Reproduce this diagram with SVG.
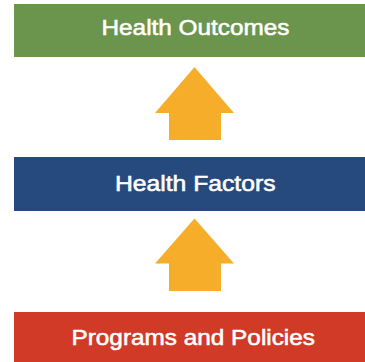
<svg xmlns="http://www.w3.org/2000/svg" width="365" height="362" viewBox="0 0 365 362">
<style>
.lbl{font-family:"Liberation Sans",Arial,sans-serif;font-size:21.5px;fill:#ffffff;stroke:#ffffff;stroke-width:0.55px}
.arr{fill:#f6ae2a}
</style>
<rect width="365" height="362" fill="#ffffff"/>
<g id="outcomes">
<rect x="14" y="4" width="351" height="53" fill="#6b944d"/>
<text class="lbl" x="101.5" y="35" textLength="188" lengthAdjust="spacingAndGlyphs">Health Outcomes</text>
</g>
<g id="factors">
<rect x="14" y="157" width="351" height="54" fill="#264a7d"/>
<text class="lbl" x="115" y="191" textLength="160.5" lengthAdjust="spacingAndGlyphs">Health Factors</text>
</g>
<g id="programs">
<rect x="14" y="312" width="351" height="50" fill="#d03a27"/>
<text class="lbl" x="71.5" y="345" textLength="243.5" lengthAdjust="spacingAndGlyphs">Programs and Policies</text>
</g>
<g id="connectors">
<polygon class="arr" points="194.5,67 234,113 221,113 221,140 169,140 169,113 155,113"/>
<polygon class="arr" points="194.5,218.5 234,263.5 221,263.5 221,291 169,291 169,263.5 155,263.5"/>
</g>
</svg>
